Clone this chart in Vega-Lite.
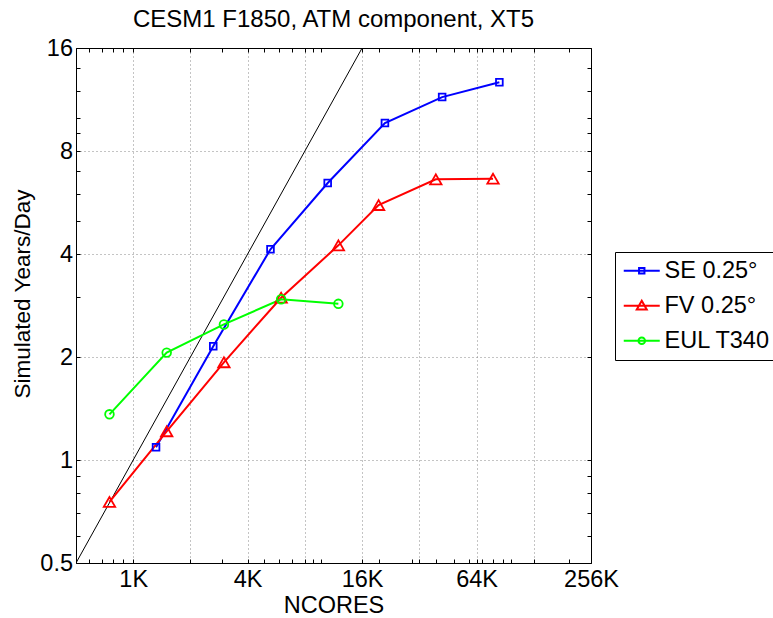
{
  "$schema": "https://vega.github.io/schema/vega-lite/v6.json",
  "autosize": {"type": "none"},
  "width": 515,
  "height": 515,
  "padding": {"left": 76, "top": 48, "right": 182, "bottom": 55},
  "background": "white",
  "config": {"view": {"stroke": null}, "font": "Liberation Sans"},
  "title": {"text": "CESM1 F1850, ATM component, XT5", "font": "Liberation Sans", "fontSize": 24, "fontWeight": "normal", "color": "black", "anchor": "middle", "baseline": "alphabetic", "offset": 18, "dy": 33},
  "datasets": {
    "series": [
      {"series": "SE 0.25°", "ncores": 1350, "ypd": 1.09},
      {"series": "SE 0.25°", "ncores": 2700, "ypd": 2.15},
      {"series": "SE 0.25°", "ncores": 5400, "ypd": 4.13},
      {"series": "SE 0.25°", "ncores": 10800, "ypd": 6.45},
      {"series": "SE 0.25°", "ncores": 21600, "ypd": 9.66},
      {"series": "SE 0.25°", "ncores": 43200, "ypd": 11.5},
      {"series": "SE 0.25°", "ncores": 86400, "ypd": 12.7},
      {"series": "FV 0.25°", "ncores": 768, "ypd": 0.754},
      {"series": "FV 0.25°", "ncores": 1536, "ypd": 1.213},
      {"series": "FV 0.25°", "ncores": 3072, "ypd": 1.93},
      {"series": "FV 0.25°", "ncores": 6144, "ypd": 2.98},
      {"series": "FV 0.25°", "ncores": 12288, "ypd": 4.24},
      {"series": "FV 0.25°", "ncores": 20000, "ypd": 5.56},
      {"series": "FV 0.25°", "ncores": 40000, "ypd": 6.61},
      {"series": "FV 0.25°", "ncores": 80000, "ypd": 6.64},
      {"series": "EUL T340", "ncores": 768, "ypd": 1.36},
      {"series": "EUL T340", "ncores": 1536, "ypd": 2.06},
      {"series": "EUL T340", "ncores": 3072, "ypd": 2.49},
      {"series": "EUL T340", "ncores": 6144, "ypd": 2.95},
      {"series": "EUL T340", "ncores": 12288, "ypd": 2.86}
    ],
    "ideal": [
      {"ncores": 512, "ypd": 0.5},
      {"ncores": 16384, "ypd": 16}
    ]
  },
  "layer": [
    {
      "data": {"name": "ideal"},
      "mark": {"type": "line", "color": "black", "strokeWidth": 1, "clip": true},
      "encoding": {
        "x": {
          "field": "ncores", "type": "quantitative",
          "scale": {"type": "log", "base": 2, "domain": [512, 262144], "nice": false, "zero": false},
          "axis": {
            "orient": "bottom",
            "values": [512, 1024, 2048, 4096, 8192, 16384, 32768, 65536, 131072, 262144, 600, 700, 800, 900, 3000, 5000, 6000, 7000, 9000, 10000, 20000, 30000, 40000, 50000, 60000, 70000, 80000, 90000, 100000, 200000],
            "labelExpr": "datum.value == 1024 ? '1K' : datum.value == 4096 ? '4K' : datum.value == 16384 ? '16K' : datum.value == 65536 ? '64K' : datum.value == 262144 ? '256K' : ''",
            "labelOverlap": false, "labelFlush": false, "labelBound": false,
            "labelFont": "Liberation Sans", "labelFontSize": 23.5, "labelColor": "black", "labelPadding": 8.5,
            "tickColor": "black", "tickSize": -4, "tickWidth": 1,
            "domainColor": "black", "domainWidth": 1,
            "grid": true, "gridColor": "#888888", "gridDash": [1, 3], "gridWidth": 1,
            "gridOpacity": {"condition": {"test": "indexof([1024, 2048, 4096, 8192, 16384, 32768, 65536, 131072], datum.value) >= 0", "value": 1}, "value": 0},
            "title": "NCORES", "titleFont": "Liberation Sans", "titleFontSize": 23.5, "titleFontWeight": "normal", "titleColor": "black", "titlePadding": 2
          }
        },
        "y": {
          "field": "ypd", "type": "quantitative",
          "scale": {"type": "log", "base": 2, "domain": [0.5, 16], "nice": false, "zero": false},
          "axis": {
            "orient": "left",
            "values": [0.5, 1, 2, 4, 8, 16, 0.6, 0.7, 0.8, 0.9, 3, 5, 6, 7, 9, 10, 12, 14],
            "labelExpr": "indexof([0.5, 1, 2, 4, 8, 16], datum.value) >= 0 ? '' + datum.value : ''",
            "labelOverlap": false, "labelFlush": false, "labelBound": false,
            "labelFont": "Liberation Sans", "labelFontSize": 23.5, "labelColor": "black", "labelPadding": 7.5,
            "tickColor": "black", "tickSize": -4, "tickWidth": 1,
            "domainColor": "black", "domainWidth": 1,
            "grid": true, "gridColor": "#888888", "gridDash": [1, 3], "gridWidth": 1,
            "gridOpacity": {"condition": {"test": "indexof([1, 2, 4, 8], datum.value) >= 0", "value": 1}, "value": 0},
            "title": "Simulated Years/Day", "titleFont": "Liberation Sans", "titleFontSize": 22.5, "titleFontWeight": "normal", "titleColor": "black",
            "titleAngle": 270, "titleAlign": "center", "titleBaseline": "middle", "titleX": -54, "titleY": 245.5
          }
        }
      }
    },
    {
      "data": {"name": "series"},
      "mark": {"type": "line", "strokeWidth": 2, "clip": true},
      "encoding": {
        "x": {
          "field": "ncores", "type": "quantitative",
          "scale": {"type": "log", "base": 2, "domain": [512, 262144], "nice": false, "zero": false},
          "axis": {
            "orient": "top",
            "values": [512, 1024, 2048, 4096, 8192, 16384, 32768, 65536, 131072, 262144, 600, 700, 800, 900, 3000, 5000, 6000, 7000, 9000, 10000, 20000, 30000, 40000, 50000, 60000, 70000, 80000, 90000, 100000, 200000],
            "labels": false, "grid": false, "title": null, "minExtent": 0, "maxExtent": 0,
            "tickColor": "black", "tickSize": -4, "tickWidth": 1,
            "domainColor": "black", "domainWidth": 1
          }
        },
        "y": {
          "field": "ypd", "type": "quantitative",
          "scale": {"type": "log", "base": 2, "domain": [0.5, 16], "nice": false, "zero": false},
          "axis": {
            "orient": "right",
            "values": [0.5, 1, 2, 4, 8, 16, 0.6, 0.7, 0.8, 0.9, 3, 5, 6, 7, 9, 10, 12, 14],
            "labels": false, "grid": false, "title": null, "minExtent": 0, "maxExtent": 0,
            "tickColor": "black", "tickSize": -4, "tickWidth": 1,
            "domainColor": "black", "domainWidth": 1
          }
        },
        "color": {
          "field": "series", "type": "nominal",
          "scale": {"domain": ["SE 0.25°", "FV 0.25°", "EUL T340"], "range": ["#0000ff", "#ff0000", "#00ff00"]},
          "legend": {
            "title": null, "orient": "none", "legendX": 539, "legendY": 204,
            "strokeColor": "black", "fillColor": "white", "padding": 7,
            "labelFont": "Liberation Sans", "labelFontSize": 23.5, "labelColor": "black", "labelOffset": 19,
            "symbolSize": 400, "symbolStrokeWidth": 2, "rowPadding": 10,
            "encode": {
              "symbols": {
                "update": {
                  "shape": {"signal": "datum.value === 'SE 0.25°' ? 'M-1,0H2.6M0.53,-0.27H1.07V0.27H0.53Z' : datum.value === 'FV 0.25°' ? 'M-1,0H2.6M0.8,-0.5L1.3,0.38H0.3Z' : 'M-1,0H2.6M1.13,0A0.33,0.33 0 1 1 0.47,0A0.33,0.33 0 1 1 1.13,0Z'"},
                  "size": {"value": 400},
                  "fill": {"value": "transparent"},
                  "strokeWidth": {"value": 2}
                }
              }
            }
          }
        }
      }
    },
    {
      "data": {"name": "series"},
      "transform": [{"filter": "datum.series === 'SE 0.25°'"}],
      "mark": {"type": "point", "shape": "square", "size": 45, "filled": false, "strokeWidth": 1.8, "opacity": 1, "clip": true},
      "encoding": {
        "x": {"field": "ncores", "type": "quantitative", "axis": null},
        "y": {"field": "ypd", "type": "quantitative", "axis": null},
        "color": {"field": "series", "type": "nominal"}
      }
    },
    {
      "data": {"name": "series"},
      "transform": [{"filter": "datum.series === 'FV 0.25°'"}],
      "mark": {"type": "point", "shape": "triangle-up", "size": 130, "filled": false, "strokeWidth": 1.8, "opacity": 1, "clip": true},
      "encoding": {
        "x": {"field": "ncores", "type": "quantitative", "axis": null},
        "y": {"field": "ypd", "type": "quantitative", "axis": null},
        "color": {"field": "series", "type": "nominal"}
      }
    },
    {
      "data": {"name": "series"},
      "transform": [{"filter": "datum.series === 'EUL T340'"}],
      "mark": {"type": "point", "shape": "circle", "size": 75, "filled": false, "strokeWidth": 1.8, "opacity": 1, "clip": true},
      "encoding": {
        "x": {"field": "ncores", "type": "quantitative", "axis": null},
        "y": {"field": "ypd", "type": "quantitative", "axis": null},
        "color": {"field": "series", "type": "nominal"}
      }
    }
  ]
}
